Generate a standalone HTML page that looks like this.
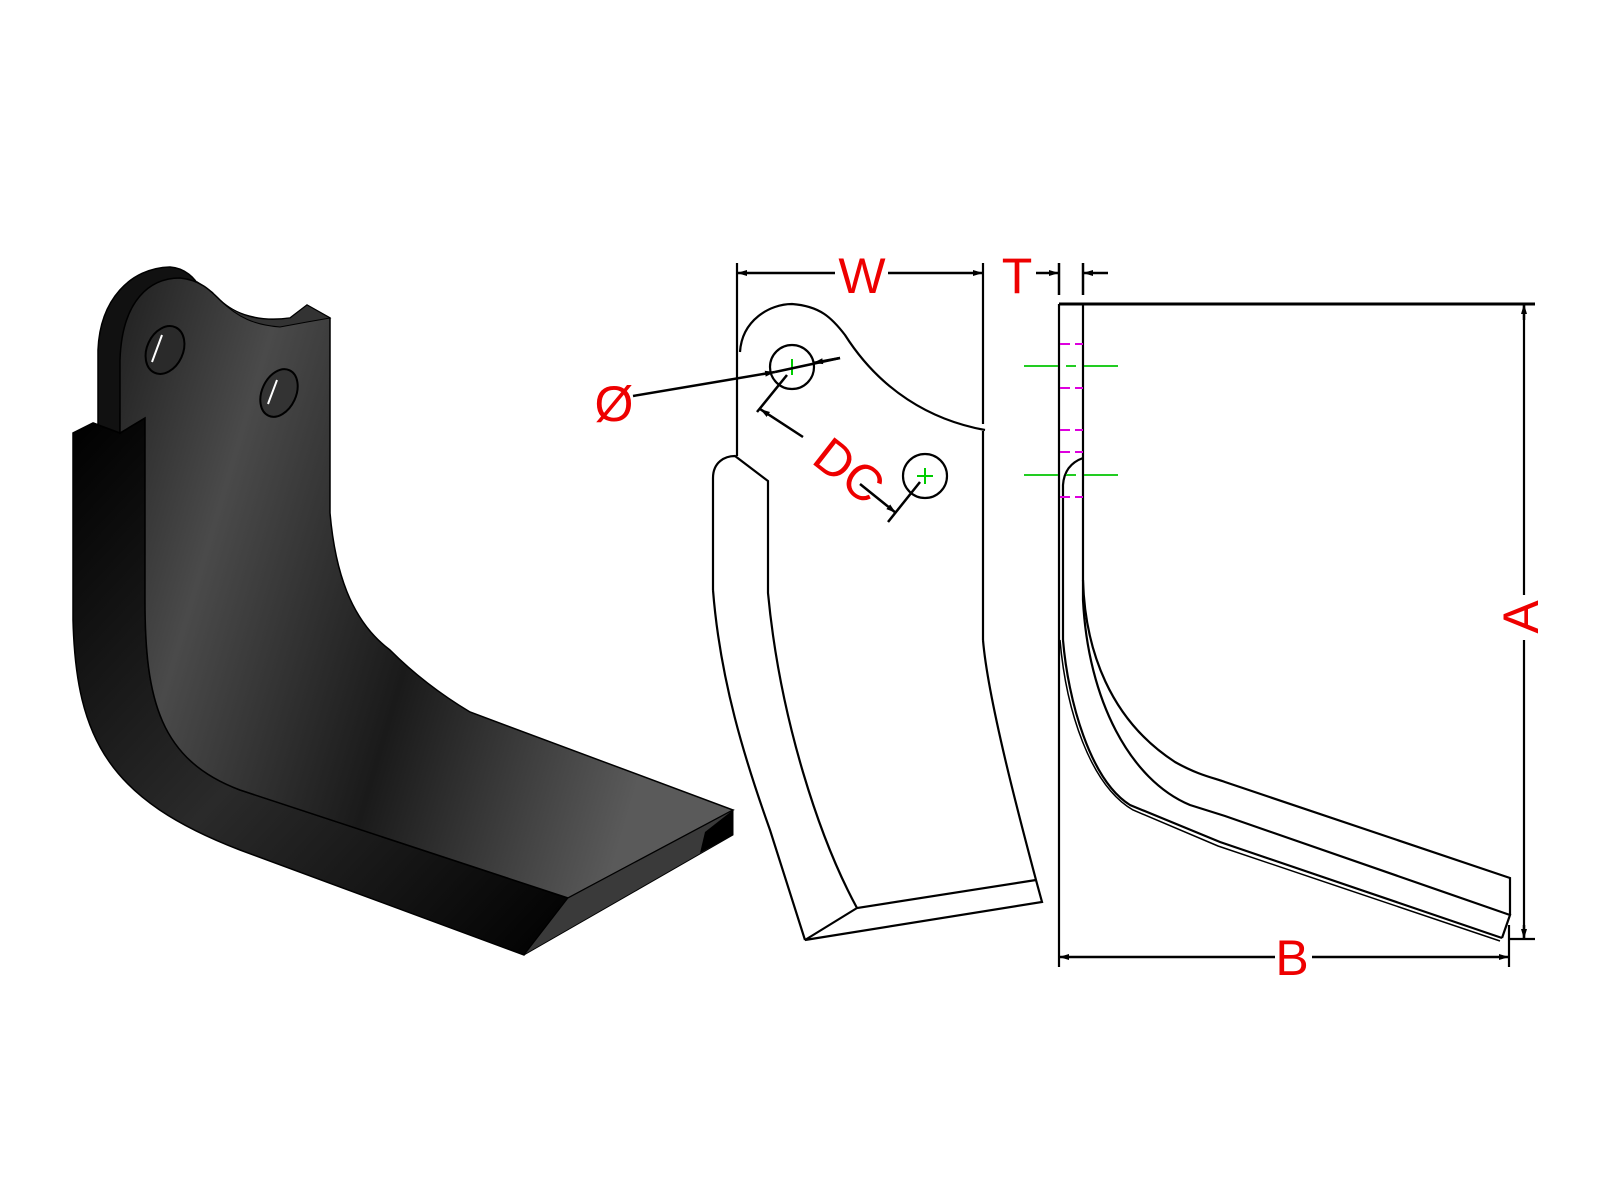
<!DOCTYPE html>
<html><head><meta charset="utf-8"><style>html,body{margin:0;padding:0;background:#fff}svg{display:block}</style></head>
<body>
<svg width="1600" height="1200" viewBox="0 0 1600 1200" xmlns="http://www.w3.org/2000/svg">
<defs>
<linearGradient id="gf" x1="0" y1="0" x2="1" y2="0.3">
<stop offset="0" stop-color="#202020"/><stop offset="0.25" stop-color="#4a4a4a"/><stop offset="0.6" stop-color="#1a1a1a"/><stop offset="1" stop-color="#5a5a5a"/></linearGradient>
<linearGradient id="gs" x1="0" y1="0" x2="1" y2="1">
<stop offset="0" stop-color="#000"/><stop offset="0.5" stop-color="#2a2a2a"/><stop offset="1" stop-color="#000"/></linearGradient>
<marker id="ar" viewBox="0 0 10 10" refX="10" refY="5" markerWidth="10" markerHeight="10" orient="auto-start-reverse" markerUnits="userSpaceOnUse"><path d="M0,2 L10,5 L0,8 z" fill="#000"/></marker>
</defs>

<!-- Left 3D blade -->
<path d="M73,433 L73,620 C76,740 110,800 240,850 L524,955 L568,898 L240,790 C160,760 145,700 145,600 L145,418 L120,433 L93,423 Z" fill="url(#gs)" stroke="#000" stroke-width="1.5"/>
<path d="M98,425 L98,350 C100,300 130,268 170,267 C185,268 195,278 200,288 L213,293 L197,282 L180,278 L137,300 C125,320 120,340 120,433 L93,423 Z" fill="#111" stroke="#000" stroke-width="1.5"/>
<path d="M120,433 L120,360 C122,300 150,278 180,278 C200,280 210,290 220,300 C235,315 260,322 290,318 L307,305 L330,318 L330,513 C335,570 350,620 390,650 C420,680 450,700 470,712 L733,810 L568,898 L240,790 C160,760 145,700 145,600 L145,418 Z" fill="url(#gf)" stroke="#000" stroke-width="1.5"/>
<path d="M220,300 C240,318 265,322 290,318 L307,305 L330,318 L307,322 L280,327 C255,325 238,318 220,300 Z" fill="#333" stroke="#000" stroke-width="1"/>
<path d="M568,898 L733,810 L733,835 L524,955 Z" fill="#3a3a3a" stroke="#000" stroke-width="1"/>
<path d="M733,810 L733,835 L700,853 L705,832 Z" fill="#000"/>
<ellipse cx="165" cy="350" rx="18" ry="25" transform="rotate(25 165 350)" fill="#2a2a2a" stroke="#000" stroke-width="2"/>
<path d="M152,362 L162,335" stroke="#fff" stroke-width="2"/>
<ellipse cx="279" cy="393" rx="17" ry="25" transform="rotate(25 279 393)" fill="#333" stroke="#000" stroke-width="2"/>
<path d="M268,404 L277,380" stroke="#fff" stroke-width="2"/>

<!-- Front view -->
<g fill="none" stroke="#000" stroke-width="2.2">
<line x1="737" y1="263" x2="737" y2="456"/>
<line x1="983" y1="263" x2="983" y2="424"/>
<path d="M740,352 C742,320 770,304 792,304 C820,306 832,318 845,335 C880,390 930,420 985,430"/>
<line x1="983" y1="431" x2="983" y2="640"/>
<path d="M983,640 C988,700 1020,820 1036,880 L1042,902 L805,940 L857,908 L1036,880"/>
<path d="M713,590 L713,478 C713,462 725,456 735,456 L768,481 L768,593 C780,720 820,840 857,908"/>
<path d="M713,590 C720,680 745,760 770,830 L805,940"/>
<circle cx="792" cy="367" r="22"/>
<circle cx="925" cy="476" r="22"/>
</g>
<g stroke="#0c0" stroke-width="2"><line x1="792" y1="359" x2="792" y2="375"/><line x1="917" y1="476" x2="933" y2="476"/><line x1="925" y1="468" x2="925" y2="484"/></g>
<g stroke="#000" stroke-width="2.5" fill="none">
<line x1="737" y1="273" x2="835" y2="273" marker-start="url(#ar)"/>
<line x1="888" y1="273" x2="983" y2="273" marker-end="url(#ar)"/>
<line x1="633" y1="396" x2="775" y2="372" marker-end="url(#ar)"/>
<line x1="775" y1="372" x2="840" y2="358"/>
<line x1="840" y1="358" x2="813" y2="363" marker-end="url(#ar)"/>
<line x1="787" y1="375" x2="757" y2="412"/>
<line x1="803" y1="437" x2="760" y2="409" marker-end="url(#ar)"/>
<line x1="920" y1="482" x2="888" y2="522"/>
<line x1="860" y1="484" x2="896" y2="513" marker-end="url(#ar)"/>
<line x1="1036" y1="273" x2="1059" y2="273" marker-end="url(#ar)"/>
<line x1="1108" y1="273" x2="1083" y2="273" marker-end="url(#ar)"/>
<line x1="1059" y1="263" x2="1059" y2="295"/>
<line x1="1083" y1="263" x2="1083" y2="295"/>
</g>

<!-- Side view -->
<g fill="none" stroke="#000" stroke-width="2.2">
<line x1="1059" y1="304" x2="1535" y2="304" stroke-width="3"/>
<line x1="1059" y1="304" x2="1059" y2="967"/>
<line x1="1083" y1="304" x2="1083" y2="600"/>
<path d="M1083,458 C1072,462 1064,470 1063,485 L1063,640"/>
<path d="M1083,580 C1085,650 1110,720 1175,762 C1200,776 1215,778 1225,782 L1510,878 L1510,915"/>
<path d="M1083,600 C1088,700 1130,780 1190,805 L1225,816 L1510,915 L1502,938"/>
<path d="M1063,640 C1068,700 1090,780 1130,805 L1220,842 L1502,938"/>
<path d="M1060,640 C1066,710 1090,785 1133,810 L1218,846 L1500,941" stroke-width="1.5"/>
<line x1="1524" y1="304" x2="1524" y2="595"/>
<line x1="1524" y1="640" x2="1524" y2="939"/>
<line x1="1509" y1="939" x2="1535" y2="939"/>
<line x1="1509" y1="925" x2="1509" y2="967"/>
</g>
<g stroke="#000" stroke-width="2.5">
<line x1="1524" y1="320" x2="1524" y2="304" marker-end="url(#ar)"/>
<line x1="1524" y1="925" x2="1524" y2="939" marker-end="url(#ar)"/>
<line x1="1059" y1="957" x2="1275" y2="957" marker-start="url(#ar)"/>
<line x1="1312" y1="957" x2="1509" y2="957" marker-end="url(#ar)"/>
</g>
<g stroke="#d0d" stroke-width="2" stroke-dasharray="10,5">
<line x1="1060" y1="344" x2="1083" y2="344"/><line x1="1060" y1="388" x2="1083" y2="388"/>
<line x1="1060" y1="430" x2="1083" y2="430"/><line x1="1060" y1="452" x2="1083" y2="452"/>
<line x1="1060" y1="497" x2="1083" y2="497"/>
</g>
<g stroke="#2c2" stroke-width="2">
<line x1="1024" y1="366" x2="1058" y2="366"/><line x1="1066" y1="366" x2="1076" y2="366"/><line x1="1084" y1="366" x2="1118" y2="366"/>
<line x1="1024" y1="475" x2="1058" y2="475"/><line x1="1066" y1="475" x2="1076" y2="475"/><line x1="1084" y1="475" x2="1118" y2="475"/>
</g>

<g font-family="Liberation Sans, sans-serif" fill="#e00" font-size="50">
<text x="862" y="293" text-anchor="middle">W</text>
<text x="1017" y="293" text-anchor="middle">T</text>
<text x="614" y="421" text-anchor="middle">Ø</text>
<text x="1292" y="975" text-anchor="middle">B</text>
<text transform="translate(1538,617) rotate(-90)" text-anchor="middle">A</text>
<text transform="translate(810,462) rotate(38)">DC</text>
</g>
</svg>
</body></html>
